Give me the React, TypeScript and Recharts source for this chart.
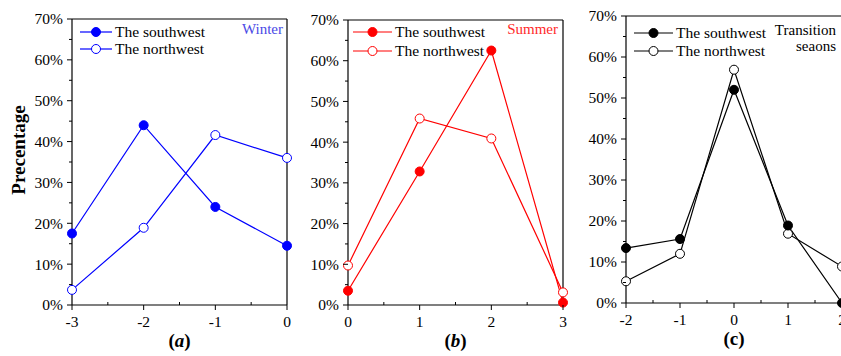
import React from "react";
import { LineChart, Line, XAxis, YAxis, Legend, Label } from "recharts";

// panel (a) winter
const WINTER_X = [-3, -2, -1, 0];
const WINTER_SW = [17.5, 44, 24, 14.5];
const WINTER_NW = [3.7, 18.9, 41.6, 36];
const WINTER_TICKS = [-3, -2.5, -2, -1.5, -1, -0.5, 0];

// panel (b) summer
const SUMMER_X = [0, 1, 2, 3];
const SUMMER_SW = [3.5, 32.8, 62.5, 0.6];
const SUMMER_NW = [9.7, 45.8, 40.9, 3.1];
const SUMMER_TICKS = [0, 0.5, 1, 1.5, 2, 2.5, 3];

// panel (c) transition seasons
const TRANS_X = [-2, -1, 0, 1, 2];
const TRANS_SW = [13.4, 15.6, 52, 18.9, 0];
const TRANS_NW = [5.3, 12, 56.9, 16.9, 8.9];
const TRANS_TICKS = [-2, -1.5, -1, -0.5, 0, 0.5, 1, 1.5, 2];

const Y_TICKS = [0, 5, 10, 15, 20, 25, 30, 35, 40, 45, 50, 55, 60, 65, 70];

const FONT = '"Liberation Serif", "Times New Roman", serif';
const AXIS = "#000";

function XTick({ x, y, payload }: any) {
  const major = Number.isInteger(payload.value);
  return (
    <g>
      <line x1={x} x2={x} y1={y} y2={major ? y + 5 : y - 3} stroke={AXIS} strokeWidth={1} />
      {major && (
        <text x={x} y={y + 22} textAnchor="middle" fontSize={15.5} fontFamily={FONT} fill="#000">
          {String(payload.value)}
        </text>
      )}
    </g>
  );
}

function YTick({ x, y, payload }: any) {
  const major = payload.value % 10 === 0;
  return (
    <g>
      <line x1={x} x2={major ? x - 5 : x - 3} y1={y} y2={y} stroke={AXIS} strokeWidth={1} />
      {major && (
        <text x={x - 9} y={y} dy="0.35em" textAnchor="end" fontSize={15.5} fontFamily={FONT} fill="#000">
          {`${payload.value}%`}
        </text>
      )}
    </g>
  );
}

interface PanelProps {
  left: number;
  width: number;
  // plot box edges, relative to the panel
  plot: { top: number; right: number; bottom: number; left: number };
  xs: number[];
  sw: number[];
  nw: number[];
  xTicks: number[];
  color: string;
  seasonColor: string;
  season: string[];
  tag: string;
  legendLeft: number;
  legendTop: number;
  legendLine: number;
  legendRow: number;
  seasonRight: number;
  showTitle?: boolean;
}

function LegendBox({ p }: { p: PanelProps }) {
  const rows = [
    { name: "The southwest", filled: true },
    { name: "The northwest", filled: false },
  ];
  return (
    <div style={{ position: "relative", fontFamily: FONT, fontSize: 15.5, color: "#000" }}>
      {rows.map((r, i) => (
        <div
          key={r.name}
          style={{ position: "absolute", left: 0, top: i * p.legendRow, height: 18, display: "flex", alignItems: "center", whiteSpace: "nowrap" }}
        >
          <svg width={p.legendLine} height={12} style={{ display: "block" }}>
            <line x1={0} x2={p.legendLine} y1={6} y2={6} stroke={p.color} strokeWidth={1.2} />
            <circle cx={p.legendLine / 2} cy={6} r={4.5} fill={r.filled ? p.color : "#fff"} stroke={p.color} strokeWidth={1} />
          </svg>
          <span style={{ marginLeft: 3, lineHeight: "18px" }}>{r.name}</span>
        </div>
      ))}
      <div
        style={{ position: "absolute", right: p.seasonRight, top: -2, textAlign: "right", color: p.seasonColor, fontSize: 15, lineHeight: "16px", whiteSpace: "nowrap" }}
      >
        {p.season.map((s) => (
          <div key={s}>{s}</div>
        ))}
      </div>
    </div>
  );
}

function Panel(p: PanelProps) {
  const data = p.xs.map((x, i) => ({ x, sw: p.sw[i], nw: p.nw[i] }));
  const domain = [p.xs[0], p.xs[p.xs.length - 1]];
  const legendWidth = p.width - p.legendLeft - (p.width - p.plot.right);
  // each axis takes 1px, so margins stop 1px short of the plot box
  const margin = {
    top: p.plot.top - 1,
    left: p.plot.left - 1,
    right: p.width - p.plot.right - 1,
    bottom: 356 - p.plot.bottom - 1,
  };
  return (
    <div style={{ position: "absolute", left: p.left, top: 0 }}>
      <LineChart width={p.width} height={356} data={data} margin={margin}>
        <XAxis
          dataKey="x"
          type="number"
          domain={domain}
          ticks={p.xTicks}
          interval={0}
          height={1}
          tickSize={0}
          tickMargin={0}
          tickLine={false}
          axisLine={{ stroke: AXIS, strokeWidth: 1.2 }}
          tick={(props: any) => <XTick {...props} />}
        >
          <Label
            content={({ viewBox }: any) => (
              <text
                x={viewBox.x + viewBox.width / 2}
                y={viewBox.y + 42}
                textAnchor="middle"
                fontSize={19}
                fontWeight="bold"
                fontFamily={FONT}
                fill="#000"
              >
                <tspan>(</tspan>
                <tspan fontStyle={p.tag === "c" ? "normal" : "italic"}>{p.tag}</tspan>
                <tspan>)</tspan>
              </text>
            )}
          />
        </XAxis>
        <XAxis
          xAxisId="top"
          orientation="top"
          type="number"
          domain={domain}
          height={1}
          tick={false}
          tickLine={false}
          axisLine={{ stroke: AXIS, strokeWidth: 1.2 }}
        />
        <YAxis
          type="number"
          domain={[0, 70]}
          ticks={Y_TICKS}
          interval={0}
          width={1}
          tickSize={0}
          tickMargin={0}
          tickLine={false}
          axisLine={{ stroke: AXIS, strokeWidth: 1.2 }}
          tick={(props: any) => <YTick {...props} />}
        >
          {p.showTitle && (
            <Label
              content={({ viewBox }: any) => (
                <text
                  transform={`translate(${viewBox.x - 53}, ${viewBox.y + viewBox.height / 2 - 12}) rotate(-90)`}
                  textAnchor="middle"
                  dy="0.35em"
                  fontSize={19}
                  fontWeight="bold"
                  fontFamily={FONT}
                  fill="#000"
                >
                  Precentage
                </text>
              )}
            />
          )}
        </YAxis>
        <YAxis
          yAxisId="right"
          orientation="right"
          type="number"
          domain={[0, 70]}
          width={1}
          tick={false}
          tickLine={false}
          axisLine={{ stroke: AXIS, strokeWidth: 1.2 }}
        />
        <Legend
          verticalAlign="middle"
          layout="horizontal"
          wrapperStyle={{ position: "absolute", left: p.legendLeft, top: p.legendTop, width: legendWidth, height: 40 }}
          content={() => <LegendBox p={p} />}
        />
        <Line
          dataKey="nw"
          name="The northwest"
          stroke={p.color}
          strokeWidth={1.2}
          dot={{ r: 4.5, fill: "#fff", stroke: p.color, strokeWidth: 1 }}
          isAnimationActive={false}
          legendType="none"
        />
        <Line
          dataKey="sw"
          name="The southwest"
          stroke={p.color}
          strokeWidth={1.2}
          dot={{ r: 4.5, fill: p.color, stroke: p.color, strokeWidth: 1 }}
          isAnimationActive={false}
          legendType="none"
        />
      </LineChart>
    </div>
  );
}

export default function App() {
  return (
    <div style={{ position: "absolute", left: 0, top: 0, width: 841, height: 356, overflow: "hidden", background: "#fff" }}>
      <Panel
        left={0}
        width={300}
        plot={{ top: 19, right: 287, bottom: 305, left: 72 }}
        xs={WINTER_X}
        sw={WINTER_SW}
        nw={WINTER_NW}
        xTicks={WINTER_TICKS}
        color="#0000ff"
        seasonColor="#4a4ae6"
        season={["Winter"]}
        tag="a"
        legendLeft={80}
        legendTop={23}
        legendLine={32}
        legendRow={17}
        seasonRight={4}
        showTitle
      />
      <Panel
        left={290}
        width={290}
        plot={{ top: 20, right: 273, bottom: 305, left: 58 }}
        xs={SUMMER_X}
        sw={SUMMER_SW}
        nw={SUMMER_NW}
        xTicks={SUMMER_TICKS}
        color="#ff0000"
        seasonColor="#ff2a2a"
        season={["Summer"]}
        tag="b"
        legendLeft={63}
        legendTop={23}
        legendLine={39}
        legendRow={18.5}
        seasonRight={5}
      />
      <Panel
        left={580}
        width={280}
        plot={{ top: 16, right: 262, bottom: 303, left: 46 }}
        xs={TRANS_X}
        sw={TRANS_SW}
        nw={TRANS_NW}
        xTicks={TRANS_TICKS}
        color="#000000"
        seasonColor="#000000"
        season={["Transition", "seaons"]}
        tag="c"
        legendLeft={54}
        legendTop={24}
        legendLine={39}
        legendRow={17.5}
        seasonRight={6}
      />
    </div>
  );
}
